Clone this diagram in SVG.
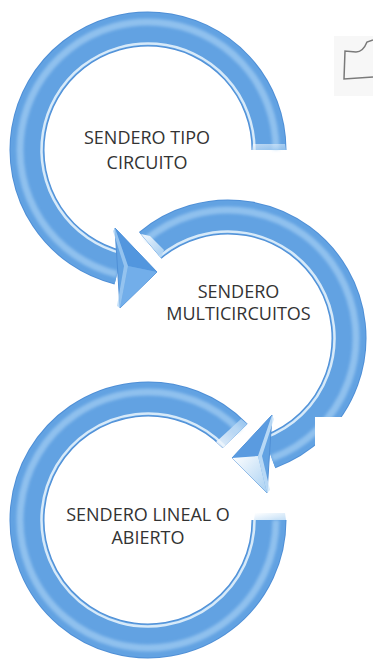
<svg xmlns="http://www.w3.org/2000/svg" width="373" height="660" viewBox="0 0 373 660">
  <defs>
    <style>
      .edge{fill:none;stroke:#4F8FD6;stroke-width:35}
      .base{fill:none;stroke:#62A2E2;stroke-width:33}
      .band{fill:none;stroke:#AED5F6;stroke-width:7;opacity:.6;filter:url(#soft)}
      .inner{fill:none;stroke:#E4F2FC;stroke-width:2.5;opacity:.9}
      .head{stroke:#4F8FD6;stroke-width:1;stroke-linejoin:round}
      .lbl{font-family:"Open Sans","Liberation Sans",sans-serif;font-size:18px;fill:#333333;text-anchor:middle}
    </style>
    <filter id="soft" x="-10%" y="-10%" width="120%" height="120%">
      <feGaussianBlur stdDeviation="1.5"/>
    </filter>
    <linearGradient id="face" x1="0" y1="0" x2="1" y2="1">
      <stop offset="0" stop-color="#FFFFFF"/>
      <stop offset="1" stop-color="#A8D0F2"/>
    </linearGradient>
    <linearGradient id="faceB" x1="0" y1="1" x2="1" y2="0">
      <stop offset="0" stop-color="#FFFFFF"/>
      <stop offset="1" stop-color="#9CC8F0"/>
    </linearGradient>
  </defs>
  <rect width="373" height="660" fill="#FFFFFF"/>

  <g id="icon">
    <rect x="334" y="36" width="39" height="60" fill="#F7F7F7"/>
    <path d="M373,40 L367,42 Q363,52 356,52 L345,51 L344,79 L373,77" fill="none" stroke="#7A7A7A" stroke-width="1.5"/>
  </g>

  <g id="node-lineal">
    <path class="edge" d="M269,520 A121,121 0 1 1 235.04,435.94"/>
    <path class="base" d="M269,520 A121,121 0 1 1 235.04,435.94"/>
    <path class="band" d="M276,520 A128,128 0 1 1 240.07,431.08"/>
    <path class="inner" d="M254.5,520 A106.5,106.5 0 1 1 224.61,446.01"/>
    <polygon points="222.8,447.8 247.3,424.1 241,419 216,442" fill="url(#faceB)" opacity=".85"/>
    <polygon points="254,520 286,520 285,513 255,513" fill="url(#face)" opacity=".7"/>
    <text class="lbl" x="148" y="520.5">SENDERO LINEAL O</text>
    <text class="lbl" x="148" y="543.5">ABIERTO</text>
  </g>

  <g id="node-multicircuitos">
    <path class="edge" d="M150.22,245.31 A121,121 0 1 1 269.38,451.70"/>
    <path class="base" d="M150.22,245.31 A121,121 0 1 1 269.38,451.70"/>
    <path class="band" d="M145.72,239.95 A128,128 0 1 1 271.78,458.28"/>
    <path class="inner" d="M159.54,256.42 A106.5,106.5 0 1 1 264.42,438.08"/>
    <polygon points="141,234 161,258 164,250 150,236" fill="url(#face)" opacity=".9"/>
    <text class="lbl" x="238.5" y="297.5">SENDERO</text>
    <text class="lbl" x="238.5" y="319.5">MULTICIRCUITOS</text>
  </g>

  <g id="node-circuito">
    <path class="edge" d="M269,150 A121,121 0 1 0 118.73,267.41"/>
    <path class="base" d="M269,150 A121,121 0 1 0 118.73,267.41"/>
    <path class="band" d="M276,150 A128,128 0 1 0 117.04,274.20"/>
    <path class="inner" d="M254.5,150 A106.5,106.5 0 1 0 122.24,253.34"/>
    <polygon points="252,150 286,150 285,144 253,144" fill="url(#face)" opacity=".6"/>
    <text class="lbl" x="147" y="143.5">SENDERO TIPO</text>
    <text class="lbl" x="147" y="168.5">CIRCUITO</text>
  </g>

  <rect id="mask-patch" x="315" y="417" width="58" height="70" fill="#FFFFFF"/>

  <g id="connectors">
    <g id="arrow-circuito-to-multi">
      <polygon class="head" points="115,228 157,272 120,308" fill="#62A2E2"/>
      <polygon points="115,228 157,272 128,266" fill="#5296DE"/>
      <polygon points="157,272 120,308 128,266" fill="#72AEEA"/>
      <polygon points="115,228 128,266 120,308 117,306 124,266 113,231" fill="#A9D2F5" opacity=".7"/>
    </g>
    <g id="arrow-multi-to-lineal">
      <polygon class="head" points="272,415 232,458 267,493" fill="#62A2E2"/>
      <polygon points="272,415 232,458 258,456" fill="#5A9BE0"/>
      <polygon points="232,458 267,493 258,456" fill="url(#face)"/>
      <polygon points="272,415 258,456 267,493 270,490 262,456 274,419" fill="#CDE6FA" opacity=".8"/>
    </g>
  </g>
</svg>
